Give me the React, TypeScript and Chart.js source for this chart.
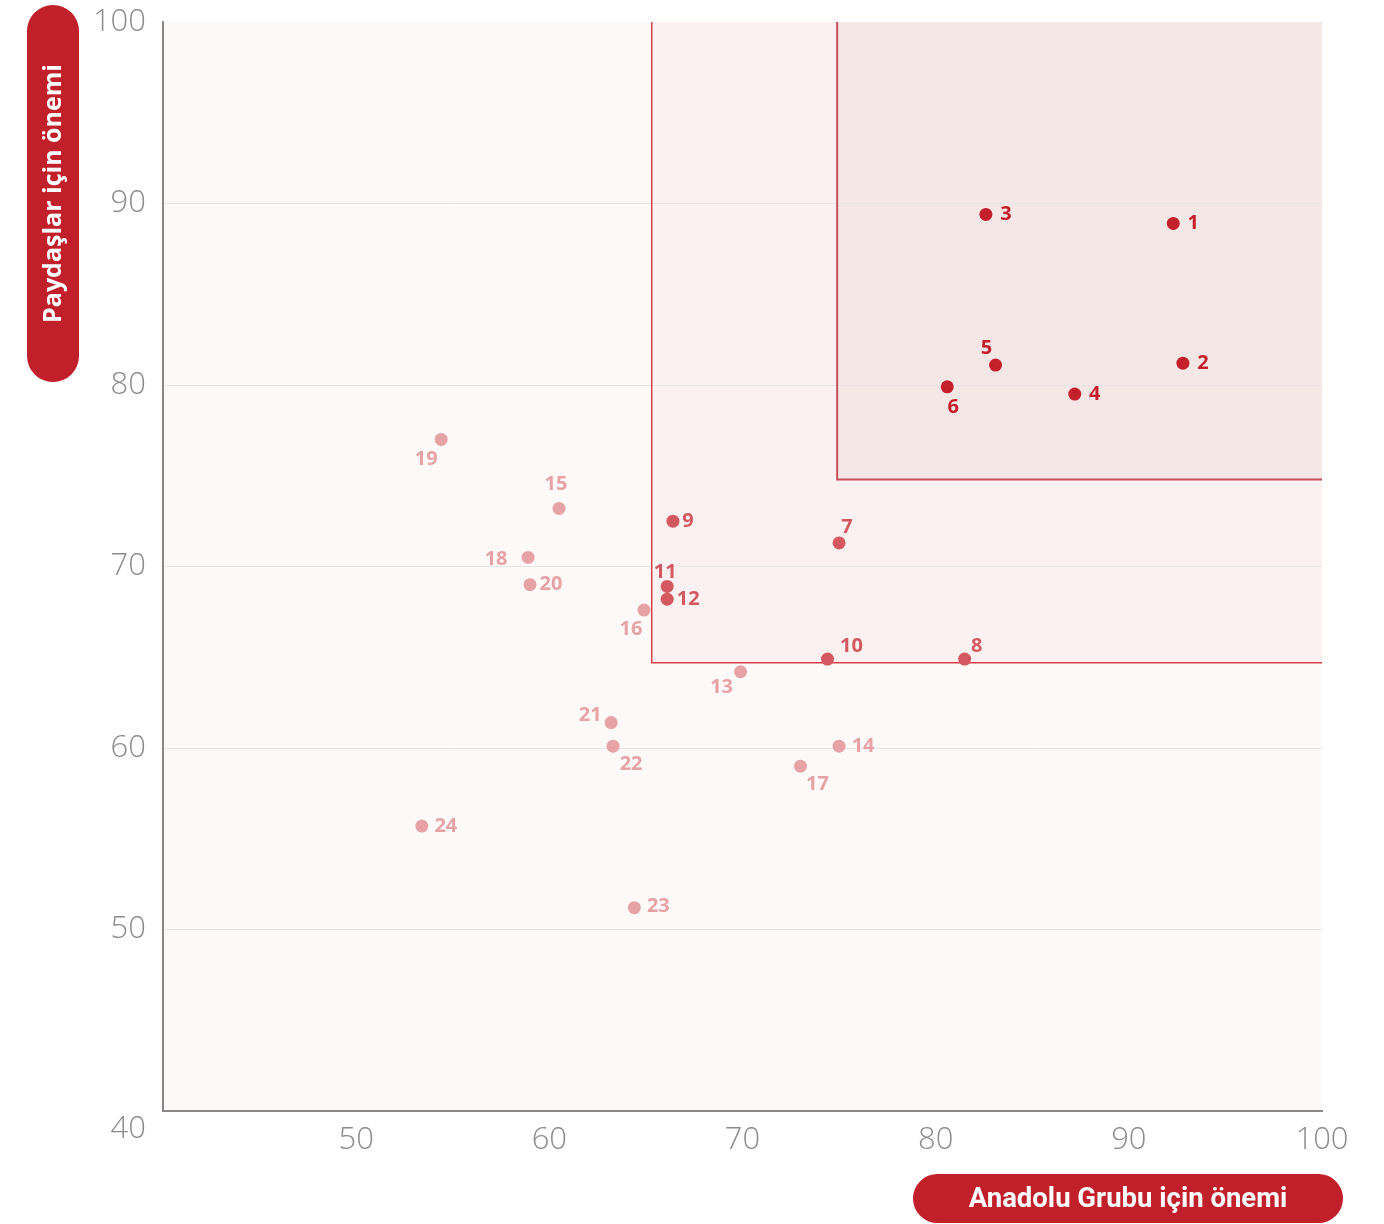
import { useEffect, useRef } from 'react';
import { Chart, registerables } from 'chart.js';

Chart.register(...registerables);

// ---- data ----
const pointIds = ['1','2','3','4','5','6','7','8','9','10','11','12','13','14','15','16','17','18','19','20','21','22','23','24'];
const importanceToGroup = [92.3, 92.8, 82.6, 87.2, 83.1, 80.6, 75.0, 81.5, 66.4, 74.4, 66.1, 66.1, 69.9, 75.0, 60.5, 64.9, 73.0, 58.9, 54.4, 59.0, 63.2, 63.3, 64.4, 53.4];
const importanceToStakeholders = [88.9, 81.2, 89.4, 79.5, 81.1, 79.9, 71.3, 64.9, 72.5, 64.9, 68.9, 68.2, 64.2, 60.1, 73.2, 67.6, 59.0, 70.5, 77.0, 69.0, 61.4, 60.1, 51.2, 55.7];
const priorityGroup = [0,0,0,0,0,0,1,1,1,1,1,1,2,2,2,2,2,2,2,2,2,2,2,2];
const axisMin = 40;
const axisMax = 100;
const tickStep = 10;
const outerZone = { x: 65.3, y: 64.7 };
const innerZone = { x: 74.9, y: 74.8 };
const xTitle = 'Anadolu Grubu için önemi';
const yTitle = 'Paydaşlar için önemi';

// ---- label placement (pixels relative to point) ----
const labelDx = [20, 20, 20, 20, -9, 6, 8, 12, 15, 24, -2, 21, -19, 24, -3, -13, 17, -32, -15, 21, -21, 18, 24, 24];
const labelDy = [0, 0, 0, 0, -17, 20, -16, -13, 0, -13, -14, 0, 16, 0, -24, 19, 18, 2, 20, 0, -7, 18, -1, 0];

// ---- styles ----
const groupColors = ['#c3202b', '#d35860', '#e6a2a5'];
const pillColor = '#c11f29';

function roundRect(ctx: CanvasRenderingContext2D, x: number, y: number, w: number, h: number, r: number) {
  ctx.beginPath();
  ctx.moveTo(x + r, y);
  ctx.lineTo(x + w - r, y);
  ctx.arc(x + w - r, y + r, r, -Math.PI / 2, 0);
  ctx.lineTo(x + w, y + h - r);
  ctx.arc(x + w - r, y + h - r, r, 0, Math.PI / 2);
  ctx.lineTo(x + r, y + h);
  ctx.arc(x + r, y + h - r, r, Math.PI / 2, Math.PI);
  ctx.lineTo(x, y + r);
  ctx.arc(x + r, y + r, r, Math.PI, Math.PI * 1.5);
  ctx.closePath();
}

const zonesPlugin = {
  id: 'zones',
  beforeDraw(chart: any) {
    const { ctx, chartArea, scales } = chart;
    const xs = scales.x;
    const ys = scales.y;
    ctx.save();
    ctx.fillStyle = '#fdf9f9';
    ctx.fillRect(chartArea.left, chartArea.top, chartArea.right - chartArea.left, chartArea.bottom - chartArea.top);
    const ox = xs.getPixelForValue(outerZone.x);
    const oy = ys.getPixelForValue(outerZone.y);
    const ix = xs.getPixelForValue(innerZone.x);
    const iy = ys.getPixelForValue(innerZone.y);
    ctx.fillStyle = '#fbf1f1';
    ctx.fillRect(ox, chartArea.top, chartArea.right - ox, oy - chartArea.top);
    ctx.fillStyle = '#f6e7e7';
    ctx.fillRect(ix, chartArea.top, chartArea.right - ix, iy - chartArea.top);
    ctx.restore();
  },
  beforeDatasetsDraw(chart: any) {
    const { ctx, chartArea, scales } = chart;
    const xs = scales.x;
    const ys = scales.y;
    const ox = xs.getPixelForValue(outerZone.x);
    const oy = ys.getPixelForValue(outerZone.y);
    const ix = xs.getPixelForValue(innerZone.x);
    const iy = ys.getPixelForValue(innerZone.y);
    ctx.save();
    ctx.strokeStyle = '#d5414a';
    ctx.lineWidth = 1.5;
    ctx.beginPath();
    ctx.moveTo(ox, chartArea.top);
    ctx.lineTo(ox, oy);
    ctx.lineTo(chartArea.right, oy);
    ctx.stroke();
    ctx.strokeStyle = '#c9505a';
    ctx.lineWidth = 2;
    ctx.beginPath();
    ctx.moveTo(ix, chartArea.top);
    ctx.lineTo(ix, iy);
    ctx.lineTo(chartArea.right, iy);
    ctx.stroke();
    ctx.restore();
  },
  afterDatasetsDraw(chart: any) {
    const { ctx } = chart;
    const meta = chart.getDatasetMeta(0);
    ctx.save();
    ctx.font = 'bold 20px "Open Sans"';
    ctx.textAlign = 'center';
    ctx.textBaseline = 'middle';
    meta.data.forEach((el: any, i: number) => {
      ctx.fillStyle = groupColors[priorityGroup[i]];
      ctx.fillText(pointIds[i], el.x + labelDx[i], el.y + labelDy[i]);
    });
    ctx.restore();
  },
  afterDraw(chart: any) {
    const { ctx } = chart;
    ctx.save();
    // y title pill
    ctx.fillStyle = pillColor;
    roundRect(ctx, 27, 5, 52, 377, 26);
    ctx.fill();
    ctx.translate(53, 193.5);
    ctx.rotate(-Math.PI / 2);
    ctx.fillStyle = '#ffffff';
    ctx.font = 'bold 25px "Open Sans"';
    ctx.textAlign = 'center';
    ctx.textBaseline = 'middle';
    ctx.fillText(yTitle, 0, 1);
    ctx.restore();
    ctx.save();
    ctx.fillStyle = pillColor;
    roundRect(ctx, 913, 1174, 430, 49, 24.5);
    ctx.fill();
    ctx.fillStyle = '#ffffff';
    ctx.font = 'bold 27.5px Roboto';
    ctx.textAlign = 'center';
    ctx.textBaseline = 'middle';
    ctx.fillText(xTitle, 1128, 1200);
    ctx.restore();
  },
};

export default function App() {
  const ref = useRef<HTMLCanvasElement | null>(null);
  useEffect(() => {
    document.body.style.margin = '0';
    document.body.style.overflow = 'hidden';
    const canvas = ref.current;
    if (!canvas) return;
    const points = importanceToGroup.map((x, i) => ({ x, y: importanceToStakeholders[i] }));
    const colors = priorityGroup.map((g) => groupColors[g]);
    const chart = new Chart(canvas, {
      type: 'scatter',
      data: {
        datasets: [
          {
            data: points,
            backgroundColor: colors,
            borderWidth: 0,
            pointRadius: 6.5,
            pointHoverRadius: 6.5,
          },
        ],
      },
      options: {
        animation: false,
        responsive: false,
        devicePixelRatio: 1,
        layout: { padding: { top: 22, right: 62, bottom: 0, left: 0 } },
        plugins: { legend: { display: false }, tooltip: { enabled: false }, title: { display: false } },
        scales: {
          x: {
            type: 'linear',
            min: axisMin,
            max: axisMax,
            afterFit: (s: any) => { s.height = 113; s.paddingLeft = 0; s.paddingRight = 0; },
            ticks: {
              stepSize: tickStep,
              color: '#8c8c8c',
              font: { family: '"Open Sans"', size: 31, weight: '300' as any },
              padding: 11,
              callback: (v: any) => (v === axisMin ? '' : String(v)),
            },
            grid: { display: false, drawTicks: false },
            border: { display: true, color: '#888888', width: 2 },
          },
          y: {
            type: 'linear',
            min: axisMin,
            max: axisMax,
            afterFit: (s: any) => { s.width = 163; s.paddingTop = 0; s.paddingBottom = 0; },
            ticks: {
              stepSize: tickStep,
              color: '#8c8c8c',
              font: { family: '"Open Sans"', size: 31, weight: '300' as any },
              padding: 17,
              callback: (v: any) => (v === axisMin ? ['', String(v)] : String(v)),
            },
            grid: {
              drawTicks: false,
              color: (c: any) => (c.tick && (c.tick.value === axisMax || c.tick.value === axisMin) ? 'rgba(0,0,0,0)' : '#e6e6e6'),
              lineWidth: 1,
            },
            border: { display: true, color: '#888888', width: 2 },
          },
        },
      },
      plugins: [zonesPlugin],
    });
    return () => chart.destroy();
  }, []);
  return <canvas ref={ref} width={1384} height={1224} style={{ display: 'block', width: 1384, height: 1224 }} />;
}
